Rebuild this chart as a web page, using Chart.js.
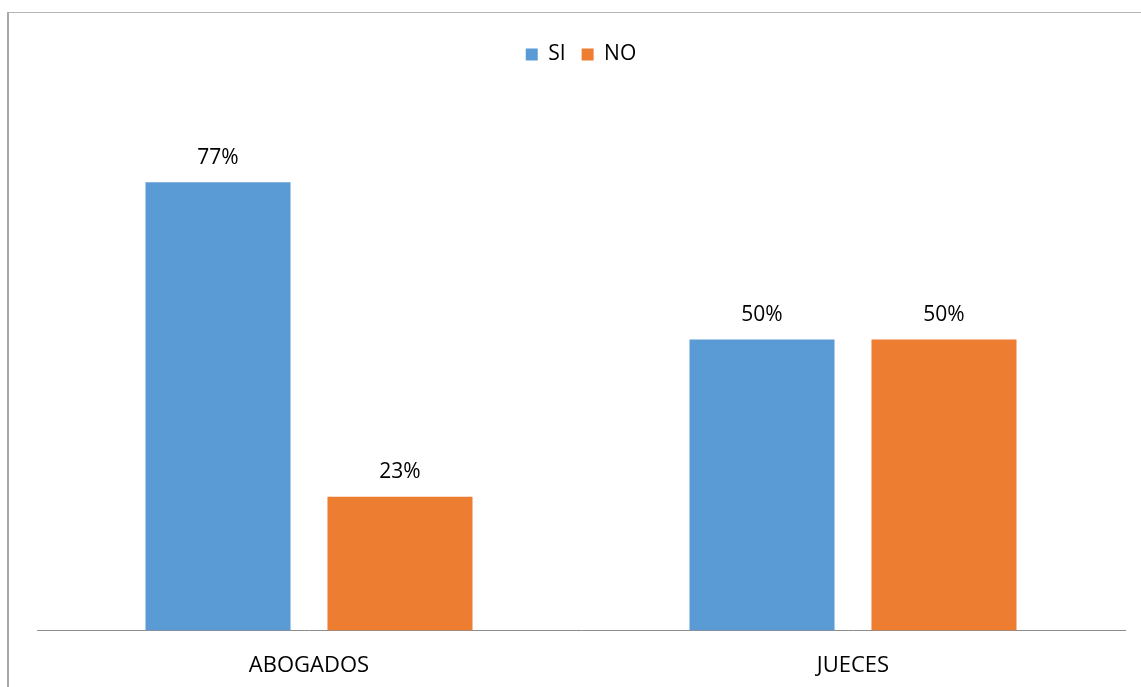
<!DOCTYPE html>
<html>
<head>
<meta charset="utf-8">
<script src="https://cdn.jsdelivr.net/npm/chart.js@4.4.0/dist/chart.umd.min.js"></script>
<style>
  body { margin: 0; background: #fff; }
  #wrap { position: relative; width: 1141px; height: 687px; overflow: hidden; }
  #frame { position: absolute; left: 7px; top: 12px; right: -5px; bottom: -5px;
           border-left: 2px solid #a8a8a8; border-top: 1px solid #b4b4b4; pointer-events: none; }
</style>
</head>
<body>
<div id="wrap">
  <canvas id="chart" width="1141" height="687"></canvas>
  <div id="frame"></div>
</div>
<script>
// datos
const categorias = ["ABOGADOS", "JUECES"];
const valoresSI = [77, 50];
const valoresNO = [23, 50];

const FONT = "'Open Sans', 'Liberation Sans', sans-serif";

// etiquetas encima de las barras
const etiquetas = {
  id: "etiquetas",
  afterDatasetsDraw(chart) {
    const ctx = chart.ctx;
    ctx.save();
    ctx.font = "21px " + FONT;
    ctx.fillStyle = "#000";
    ctx.textAlign = "center";
    ctx.textBaseline = "bottom";
    chart.data.datasets.forEach((ds, i) => {
      chart.getDatasetMeta(i).data.forEach((bar, j) => {
        ctx.fillText(ds.data[j] + "%", bar.x, bar.y - 14);
      });
    });
    ctx.restore();
  }
};

new Chart(document.getElementById("chart"), {
  type: "bar",
  data: {
    labels: categorias,
    datasets: [
      { label: "SI", data: valoresSI, backgroundColor: "#5B9BD5" },
      { label: "NO", data: valoresNO, backgroundColor: "#ED7D31" }
    ]
  },
  options: {
    responsive: false,
    animation: false,
    layout: { padding: { left: 37, right: 16, top: 28, bottom: -14 } },
    datasets: { bar: { categoryPercentage: 0.669, barPercentage: 0.797 } },
    plugins: {
      tooltip: { enabled: false },
      legend: {
        position: "top",
        labels: { font: { family: FONT, size: 21 }, color: "#000", boxWidth: 12, boxHeight: 12, padding: 16 }
      }
    },
    scales: {
      x: {
        grid: { display: false, drawTicks: false },
        border: { display: true, color: "#8c8c8c", width: 1 },
        ticks: { font: { family: FONT, size: 22 }, color: "#000", padding: 22 }
      },
      y: {
        display: false,
        min: 0,
        max: 95.4
      }
    }
  },
  plugins: [etiquetas]
});
</script>
</body>
</html>
